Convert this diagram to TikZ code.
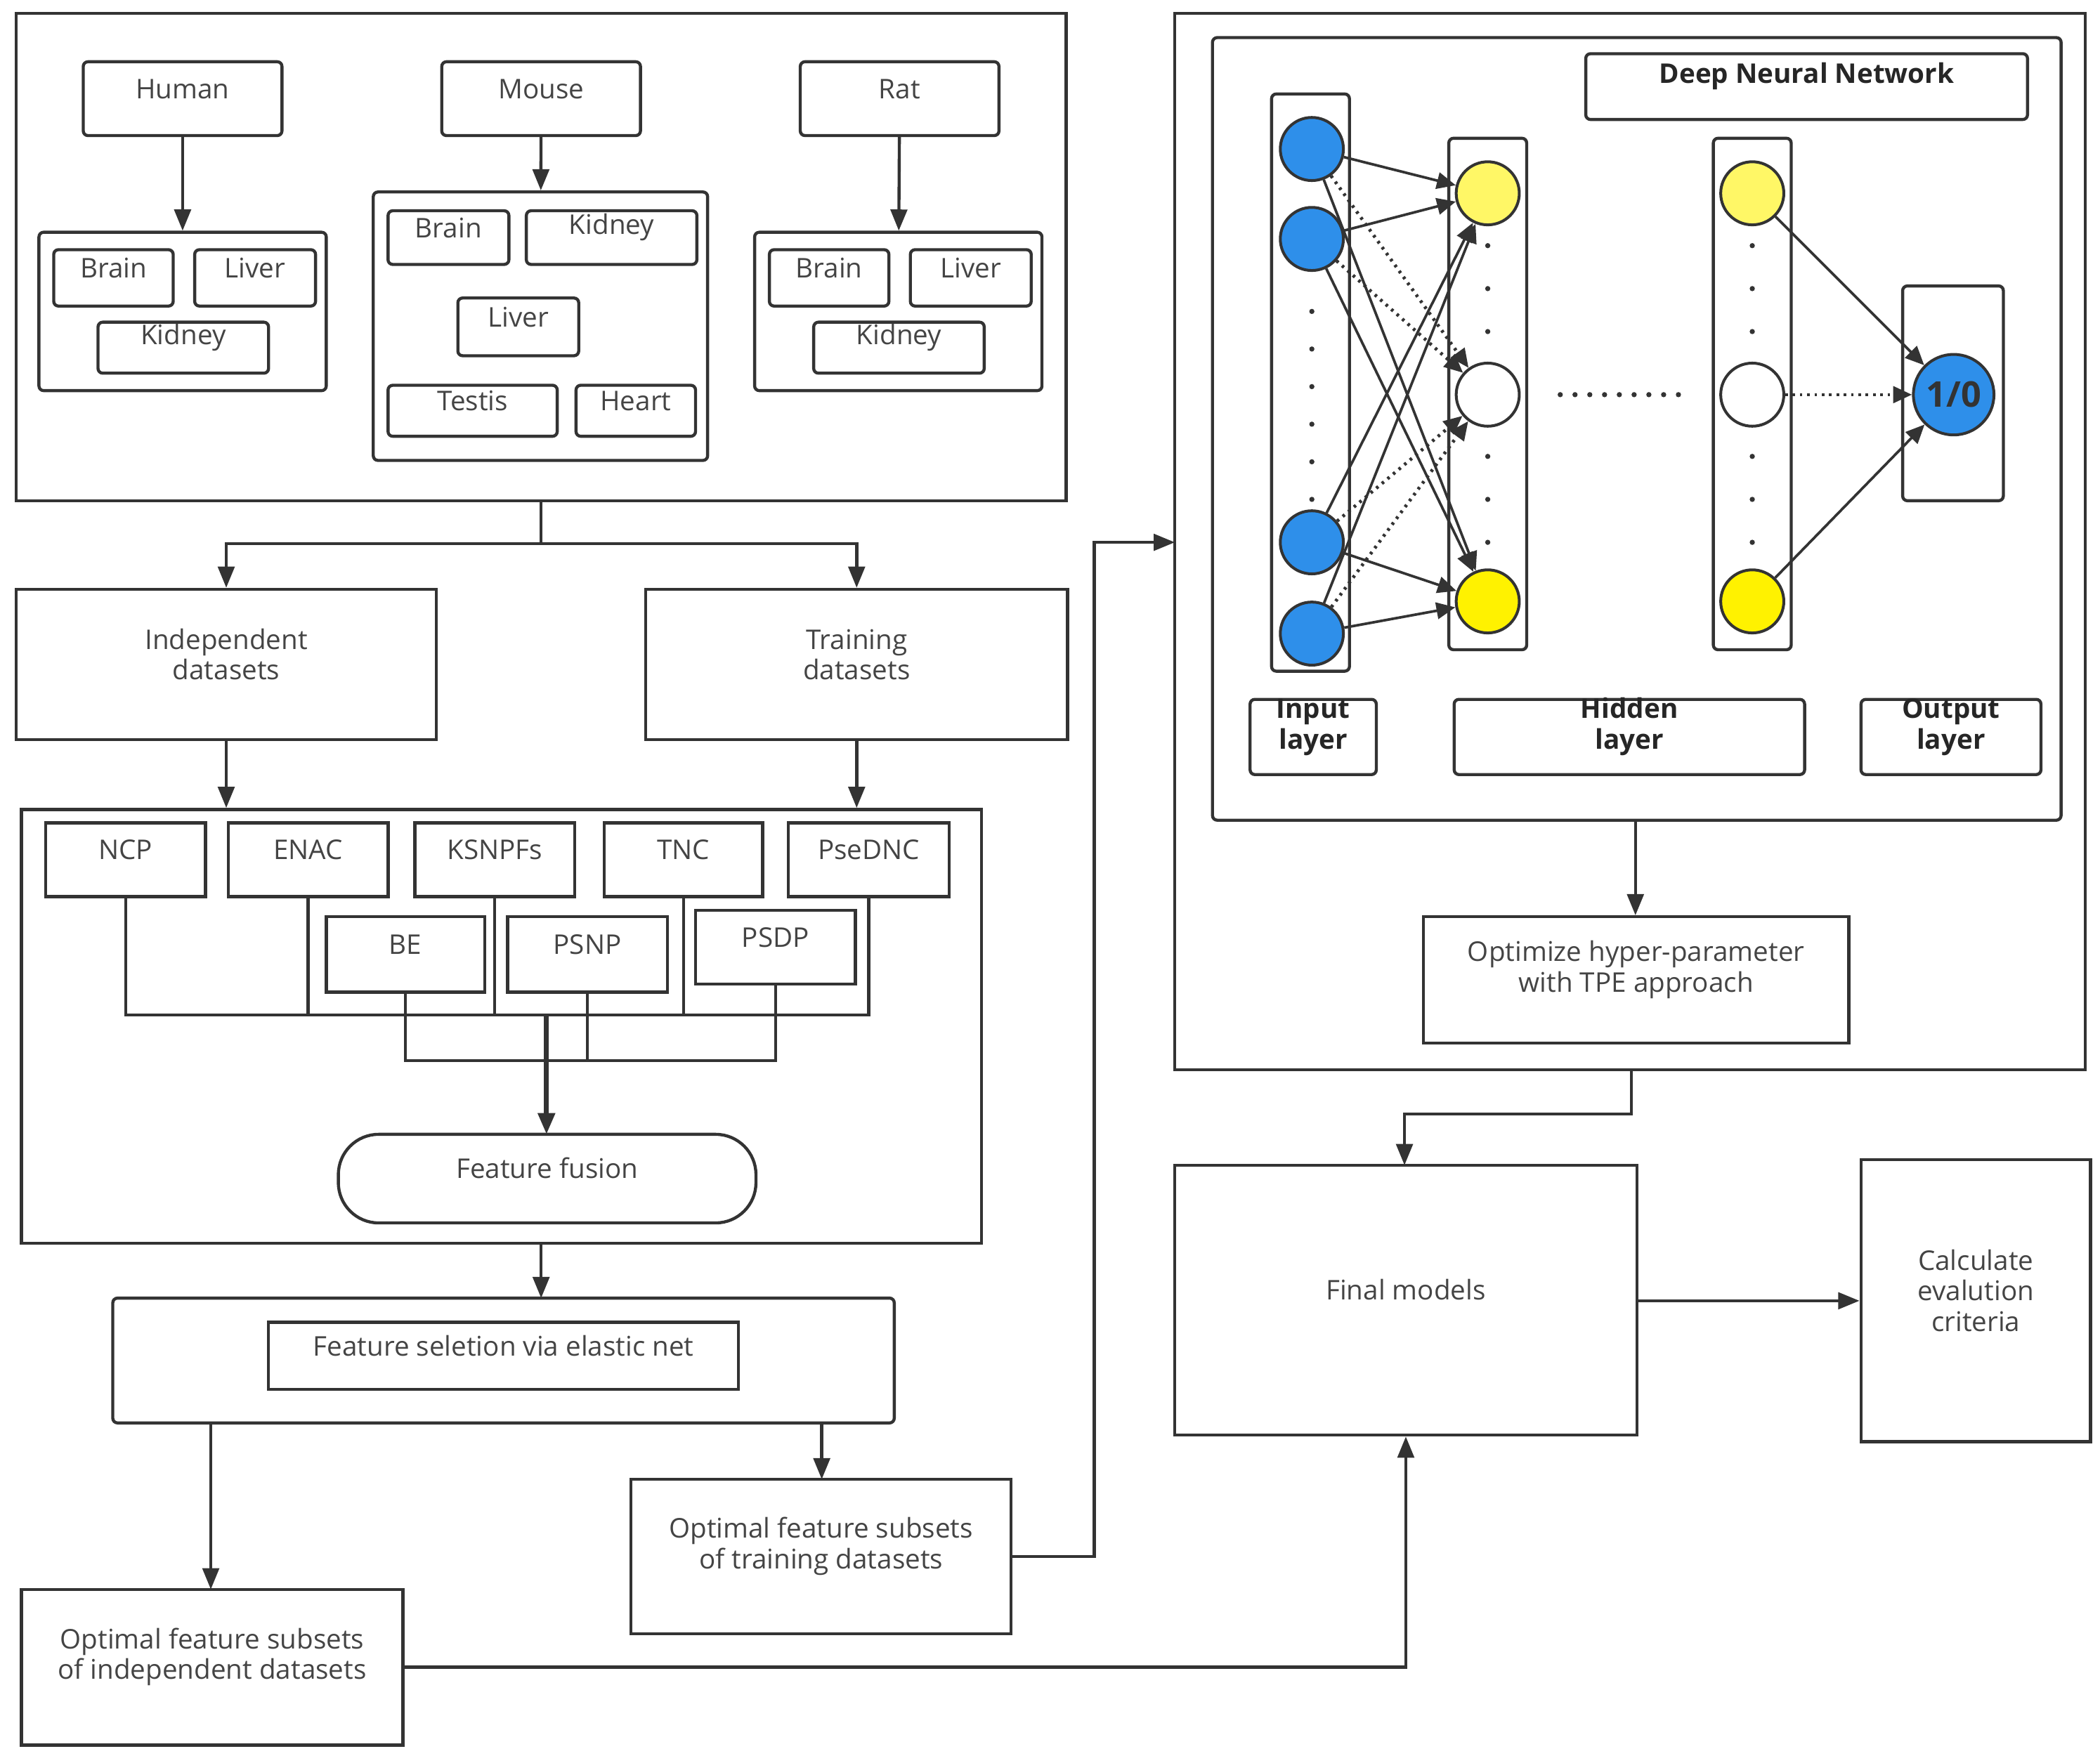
\documentclass[tikz,border=0pt]{standalone}
\usepackage{fontspec}
\setmainfont{Open Sans}
\usetikzlibrary{fit,arrows.meta,shapes.misc}
\definecolor{ln}{HTML}{333333}
\definecolor{tx}{HTML}{444444}
\definecolor{nblue}{HTML}{2E8FEA}
\begin{document}
\begin{tikzpicture}[x=0.02cm,y=-0.02cm,
  box/.style={draw=ln,line width=1.3pt,rounded corners=2pt,inner sep=0pt,align=center,text=tx,font=\fontsize{11.5}{13}\selectfont},
  sq/.style={box,rounded corners=0pt},
  bb/.style={box,font=\bfseries\fontsize{11.5}{13}\selectfont,text=black!85},
  ar/.style={draw=ln,line width=1.3pt,-{Triangle[length=9pt,width=7pt]}},
  ln/.style={draw=ln,line width=1.3pt},
  neu/.style={circle,draw=ln,line width=1.2pt,minimum size=0.94cm,inner sep=0pt},
  dot/.style={circle,fill=ln,inner sep=0pt,minimum size=2.2pt},
  sol/.style={draw=ln,line width=1.1pt,-{Triangle[length=8pt,width=7pt]}},
  dsh/.style={sol,dotted,line width=1.4pt}]
\useasboundingbox (0,0) rectangle (1564,1308);
% top-left
\node[sq,fit={(12,10)(794,373)}] (top) {};
\node[box,fit={(62,46)(210,101)}] (hum) {Human};
\node[box,fit={(329,46)(477,101)}] (mou) {Mouse};
\node[box,fit={(596,46)(744,101)}] (rat) {Rat};
\node[box,fit={(29,173)(243,291)}] (hg) {};
\node[box,fit={(40,186)(129,228)}] (hb) {Brain};
\node[box,fit={(145,186)(235,228)}] (hl) {Liver};
\node[box,fit={(73,240)(200,278)}] (hk) {Kidney};
\node[box,fit={(278,143)(527,343)}] (mg) {};
\node[box,fit={(289,157)(379,197)}] (mb) {Brain};
\node[box,fit={(392,157)(519,197)}] (mk) {Kidney};
\node[box,fit={(341,222)(431,265)}] (ml) {Liver};
\node[box,fit={(289,287)(415,325)}] (mt) {Testis};
\node[box,fit={(429,287)(518,325)}] (mh) {Heart};
\node[box,fit={(562,173)(776,291)}] (rg) {};
\node[box,fit={(573,186)(662,228)}] (rb) {Brain};
\node[box,fit={(678,186)(768,228)}] (rl) {Liver};
\node[box,fit={(606,240)(733,278)}] (rk) {Kidney};
\draw[ar] (hum) -- (hg);
\draw[ar] (mou) -- (mg);
\draw[ar] (rat) -- (rg);
% datasets
\node[sq,fit={(12,439)(325,551)}] (ind) {Independent\\datasets};
\node[sq,fit={(481,439)(795,551)}] (tr) {Training\\datasets};
\coordinate (j1) at (403,405);
\draw[ln] (top.south) -- (j1);
\draw[ar] (j1) -| (ind.north);
\draw[ar] (j1) -| (tr.north);
% features
\node[sq,fit={(16,603)(731,926)}] (fb) {};
\draw[ar] (ind.south) -- (ind.south|-fb.north);
\draw[ar] (tr.south) -- (tr.south|-fb.north);
\node[sq,fit={(34,613)(153,668)}] (ncp) {NCP};
\node[sq,fit={(170,613)(289,668)}] (enac) {ENAC};
\node[sq,fit={(309,613)(428,668)}] (ksn) {KSNPFs};
\node[sq,fit={(450,613)(568,668)}] (tnc) {TNC};
\node[sq,fit={(587,613)(707,668)}] (pse) {PseDNC};
\node[sq,fit={(243,683)(361,739)}] (be) {BE};
\node[sq,fit={(378,683)(497,739)}] (psnp) {PSNP};
\node[sq,fit={(518,678)(637,733)}] (psdp) {PSDP};
\node[box,rounded corners=0.6cm,fit={(252,845)(563,911)}] (ff) {Feature fusion};
\draw[ln] (ncp.south) |- (pse.south|-0,756) -- (pse.south);
\foreach \n in {enac,ksn,tnc} \draw[ln] (\n.south) -- (\n.south|-0,756);
\draw[ln] (be.south) |- (psdp.south|-0,790) -- (psdp.south);
\draw[ln] (psnp.south) -- (psnp.south|-0,790);
\coordinate (j2) at (407,756);
\draw[ar,line width=2pt] (j2) -- (407,845);
% selection
\node[sq,rounded corners=2pt,fit={(84,967)(666,1060)}] (sel) {};
\node[sq,fit={(200,985)(550,1035)}] (seli) {Feature seletion via elastic net};
\draw[ar] (fb.south-|403,0) -- (403,967);
\node[sq,fit={(16,1184)(300,1300)}] (oi) {Optimal feature subsets\\of independent datasets};
\node[sq,fit={(470,1102)(753,1217)}] (ot) {Optimal feature subsets\\of training datasets};
\draw[ar] (sel.south-|157,0) -- (157,1184);
\draw[ar] (sel.south-|612,0) -- (612,1102);
% right
\node[sq,fit={(875,10)(1553,797)}] (rb2) {};
\node[box,fit={(903,28)(1535,611)}] (dnn) {};
\draw[ar] (ot.east) -| (815,404) -- (875,404);
\node[bb,fit={(1181,40)(1510,89)}] (dt) {Deep Neural Network};
\node[box,fit={(947,70)(1005,500)}] (ic) {};
\node[box,fit={(1079,103)(1137,484)}] (h1c) {};
\node[box,fit={(1276,103)(1334,484)}] (h2c) {};
\node[box,fit={(1417,213)(1492,373)}] (oc) {};
\node[neu,fill=nblue] (i1) at (977,111) {};
\node[neu,fill=nblue] (i2) at (977,178) {};
\node[neu,fill=nblue] (i3) at (977,404) {};
\node[neu,fill=nblue] (i4) at (977,472) {};
\node[neu,fill=yellow!60] (a1) at (1108,144) {};
\node[neu,fill=white] (a2) at (1108,294) {};
\node[neu,fill=yellow] (a3) at (1108,448) {};
\node[neu,fill=yellow!60] (b1) at (1305,144) {};
\node[neu,fill=white] (b2) at (1305,294) {};
\node[neu,fill=yellow] (b3) at (1305,448) {};
\node[neu,fill=nblue,minimum size=1.2cm,font=\bfseries\fontsize{15}{16}\selectfont,text=black!80] (o) at (1455,294) {1/0};
\foreach \y in {232,260,288,316,344,372} \node[dot] at (977,\y) {};
\foreach \y in {183,215,247,340,372,404} {\node[dot] at (1108,\y) {}; \node[dot] at (1305,\y) {};}
\foreach \x in {1162,1173,...,1250} \node[dot] at (\x,294) {};
\foreach \i in {i1,i2,i3,i4} {\draw[sol] (\i) -- (a1); \draw[sol] (\i) -- (a3); \draw[dsh] (\i) -- (a2);}
\draw[sol] (b1) -- (o); \draw[sol] (b3) -- (o); \draw[dsh] (b2) -- (o);
\node[bb,fit={(931,521)(1025,577)}] (il) {Input\\layer};
\node[bb,fit={(1083,521)(1344,577)}] (hl2) {Hidden\\layer};
\node[bb,fit={(1386,521)(1520,577)}] (ol) {Output\\layer};
\node[sq,fit={(1060,683)(1377,777)}] (opt) {Optimize hyper-parameter\\with TPE approach};
\draw[ar] (dnn.south-|1218,0) -- (opt.north-|1218,0);
\node[sq,fit={(875,868)(1219,1069)}] (fm) {Final models};
\node[sq,fit={(1386,864)(1557,1074)}] (calc) {Calculate\\evalution\\criteria};
\draw[ar] (rb2.south-|1215,0) -- (1215,830) -| (1046,868);
\draw[ar] (fm.east|-0,969) -- (calc.west|-0,969);
\draw[ar] (oi.east|-0,1242) -| (fm.south-|1047,0);
\end{tikzpicture}
\end{document}
